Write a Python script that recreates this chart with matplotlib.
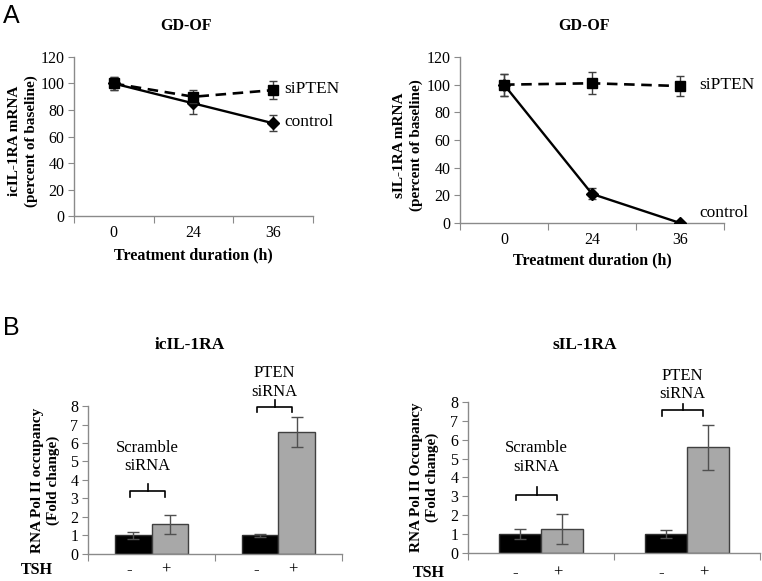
import numpy as np
import matplotlib.pyplot as plt

plt.rcParams['font.family'] = ['Liberation Serif', 'DejaVu Serif']

# Panel A data
hours = ['0', '24', '36']
ic_sipten = [100, 90, 95]
ic_sipten_err = [5, 5, 7]
ic_control = [100, 85, 70]
ic_control_err = [5, 8, 6]
s_sipten = [100, 101, 99]
s_sipten_err = [8, 8, 7]
s_control = [100, 21, 0]
s_control_err = [8, 4, 0]

# Panel B data: [TSH -, TSH +] per group
groups = ['Scramble\nsiRNA', 'PTEN\nsiRNA']
ic_minus = [1.0, 1.0]
ic_minus_err = [0.2, 0.1]
ic_plus = [1.6, 6.6]
ic_plus_err = [0.5, 0.8]
s_minus = [1.0, 1.0]
s_minus_err = [0.25, 0.2]
s_plus = [1.28, 5.6]
s_plus_err = [0.8, 1.2]

axis_grey = '#8a8a8a'

fig = plt.figure(figsize=(7.62, 5.81), dpi=100)


def style_axes(ax, ncat):
    for s in ['top', 'right']:
        ax.spines[s].set_visible(False)
    for s in ['left', 'bottom']:
        ax.spines[s].set_color(axis_grey)
        ax.spines[s].set_linewidth(1)
    ax.set_xlim(0, ncat)
    ax.set_xticks(np.arange(ncat + 1))
    ax.set_xticklabels([])
    ax.tick_params(axis='x', direction='out', length=5, color=axis_grey)
    ax.tick_params(axis='y', direction='out', length=4, color=axis_grey,
                   labelsize=11.5, pad=3)


def below(ax, x, px, s, **kw):
    # text at data x, px pixels under the x axis
    ax.annotate(s, xy=(x, 0), xycoords=('data', 'axes fraction'),
                xytext=(0, -px), textcoords='offset pixels',
                ha='center', va='center', annotation_clip=False, **kw)


def above(ax, xf, px, s, **kw):
    ax.annotate(s, xy=(xf, 1), xycoords='axes fraction',
                xytext=(0, px), textcoords='offset pixels',
                ha='center', va='center', annotation_clip=False, **kw)


def line_panel(rect, sip, sip_err, ctl, ctl_err, ylabel, lab_x, lab_sp,
               tick_px, xl_px, sip_txt, ctl_txt):
    ax = fig.add_axes(rect)
    x = np.arange(len(hours)) + 0.5
    ax.errorbar(x, ctl, yerr=ctl_err, color='black', lw=1.7, marker='D', ms=6,
                ecolor='#404040', elinewidth=1, capsize=3, zorder=3)
    ax.errorbar(x, sip, yerr=sip_err, color='black', lw=1.9, ls=(0, (4, 2.5)),
                marker='s', ms=7.5, ecolor='#404040', elinewidth=1, capsize=3,
                zorder=4)
    style_axes(ax, len(hours))
    ax.set_ylim(0, 120)
    ax.set_yticks(range(0, 121, 20))
    for xi, h in zip(x, hours):
        below(ax, xi, tick_px, h, fontsize=11.5)
    below(ax, 1.5, xl_px, 'Treatment duration (h)', fontsize=11.5,
          fontweight='bold')
    above(ax, 0.47, 31, 'GD-OF', fontsize=11.5, fontweight='bold')
    ax.set_ylabel(ylabel, fontsize=11, fontweight='bold', linespacing=lab_sp)
    ax.yaxis.set_label_coords(lab_x, 0.47)
    ax.text(sip_txt[0], sip_txt[1], 'siPTEN', ha='left', va='center', fontsize=12.5)
    ax.text(ctl_txt[0], ctl_txt[1], 'control', ha='left', va='center', fontsize=12.5)
    return ax


def brace(ax, xc, y, half, drop, rise):
    ax.plot([xc - half, xc - half, xc + half, xc + half],
            [y - drop, y, y, y - drop], color='black', lw=1.2, clip_on=False)
    ax.plot([xc, xc], [y, y + rise], color='black', lw=1.2, clip_on=False)


def bar_panel(rect, minus, minus_err, plus, plus_err, title, title_px, ylabel,
              lab_x, width, braces, txt_y, tsh_x, tsh_px):
    ax = fig.add_axes(rect)
    xc = np.arange(len(groups)) + 0.5
    ax.bar(xc - width / 2, minus, width, color='black', edgecolor='#303030',
           lw=1, zorder=2)
    ax.bar(xc + width / 2, plus, width, color='#a8a8a8', edgecolor='#404040',
           lw=1, zorder=2)
    ax.errorbar(xc - width / 2, minus, yerr=minus_err, fmt='none',
                ecolor='#505050', elinewidth=1, capsize=4, zorder=3)
    ax.errorbar(xc + width / 2, plus, yerr=plus_err, fmt='none',
                ecolor='#505050', elinewidth=1, capsize=4, zorder=3)
    style_axes(ax, len(groups))
    ax.set_ylim(0, 8)
    ax.set_yticks(range(0, 9))
    for i, g in enumerate(groups):
        y, drop, rise = braces[i]
        brace(ax, xc[i] - 0.03, y, 0.14, drop, rise)
        ax.text(xc[i] - 0.03, txt_y[i], g, ha='center', va='bottom', fontsize=12,
                linespacing=1.2, clip_on=False)
        below(ax, xc[i] - width / 2 - 0.03, tsh_px, '-', fontsize=12)
        below(ax, xc[i] + width / 2 - 0.03, tsh_px, '+', fontsize=12)
    below(ax, tsh_x, tsh_px, 'TSH', fontsize=11.5, fontweight='bold')
    above(ax, 0.4, title_px, title, fontsize=12.5, fontweight='bold')
    ax.set_ylabel(ylabel, fontsize=11, fontweight='bold', linespacing=1.25)
    ax.yaxis.set_label_coords(lab_x, 0.5)
    return ax


line_panel([0.0971, 0.6282, 0.3136, 0.2737], ic_sipten, ic_sipten_err,
           ic_control, ic_control_err, 'icIL-1RA mRNA\n(percent of baseline)',
           -0.15, 1.4, 17, 39, (2.64, 96), (2.64, 71))
line_panel([0.6037, 0.6162, 0.3465, 0.2857], s_sipten, s_sipten_err,
           s_control, s_control_err, 'sIL-1RA mRNA\n(percent of baseline)',
           -0.14, 1.3, 17, 37, (2.72, 100), (2.72, 7))

bar_panel([0.1155, 0.0465, 0.3333, 0.2547], ic_minus, ic_minus_err, ic_plus,
          ic_plus_err, 'icIL-1RA', 61, 'RNA Pol II occupancy\n(Fold change)',
          -0.11, 0.285, [(3.4, 0.3, 0.4), (7.95, 0.28, 0.35)], [4.3, 8.35],
          -0.4, 16)
bar_panel([0.6142, 0.0482, 0.3832, 0.26], s_minus, s_minus_err, s_plus,
          s_plus_err, 'sIL-1RA', 57, 'RNA Pol II Occupancy\n(Fold change)',
          -0.1, 0.29, [(3.07, 0.28, 0.4), (7.55, 0.28, 0.35)], [4.15, 8.0],
          -0.27, 20)

fig.text(0.004, 0.972, 'A', fontsize=18, family='Liberation Sans', va='center')
fig.text(0.004, 0.435, 'B', fontsize=18, family='Liberation Sans', va='center')

fig.savefig('out.png', dpi=100)
